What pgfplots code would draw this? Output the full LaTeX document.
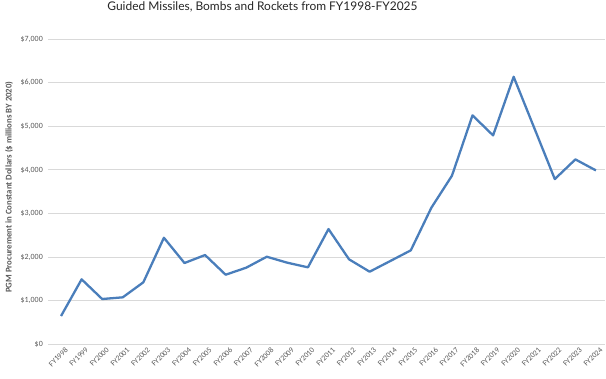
\documentclass[border=0pt]{standalone}
\usepackage{pgfplots}
\pgfplotsset{compat=1.18}
\usepackage{fontspec}
\setmainfont{Carlito}
\newfontfamily\titlefont{Lato}
\definecolor{linecol}{HTML}{4A7EBB}
\definecolor{gridcol}{HTML}{D9D9D9}
\definecolor{txtcol}{HTML}{595959}
\begin{document}
\begin{tikzpicture}
\begin{axis}[
  at={(0,0)}, anchor=south west,
  scale only axis,
  width=556.5bp, height=305.5bp,
  xmin=-0.61, xmax=26.44,
  ymin=0, ymax=7000,
  axis line style={draw=none},
  major tick length=0pt,
  ytick={0,1000,...,7000},
  ymajorgrids=true,
  grid style={gridcol, line width=0.9pt},
  xtick={0,...,26},
  xticklabels={FY1998,FY1999,FY2000,FY2001,FY2002,FY2003,FY2004,FY2005,FY2006,FY2007,FY2008,FY2009,FY2010,FY2011,FY2012,FY2013,FY2014,FY2015,FY2016,FY2017,FY2018,FY2019,FY2020,FY2021,FY2022,FY2023,FY2024},
  xticklabel style={rotate=45, anchor=north east, font=\fontsize{7.8}{8}\selectfont, text=txtcol, inner sep=1bp, yshift=-3bp, xshift=2bp},
  yticklabel={\$\pgfmathprintnumber[fixed,precision=0,1000 sep={,}]{\tick}},
  yticklabel style={font=\fontsize{8}{9}\selectfont, text=txtcol, inner sep=1bp, xshift=-4.5bp},
  /pgf/number format/assume math mode=true,
  ylabel={PGM Procurement in Constant Dollars (\$ millions BY 2020)},
  ylabel style={font=\bfseries\fontsize{8.8}{9}\selectfont, text=txtcol, at={(axis description cs:-0.071,0.515)}, anchor=center},
  title={Guided Missiles, Bombs and Rockets from FY1998-FY2025},
  title style={font=\titlefont\fontsize{12}{14}\selectfont, text=black!85, at={(axis description cs:0.3845,1)}, anchor=center, yshift=26bp},
  clip=false,
]
\addplot[color=linecol, line width=2.3pt, line join=round, mark=none] coordinates {
(0,653) (1,1493) (2,1042) (3,1081) (4,1425) (5,2446) (6,1867) (7,2050) (8,1599)
(9,1760) (10,2011) (11,1874) (12,1768) (13,2645) (14,1951) (15,1668) (16,1912)
(17,2157) (18,3134) (19,3867) (20,5250) (21,4791) (22,6134) (23,4963) (24,3790)
(25,4241) (26,3989)
};
\end{axis}
\pgfresetboundingbox
\path[use as bounding box] (-48.5bp,-34.5bp) rectangle (557.5bp,344.5bp);
\end{tikzpicture}
\end{document}
